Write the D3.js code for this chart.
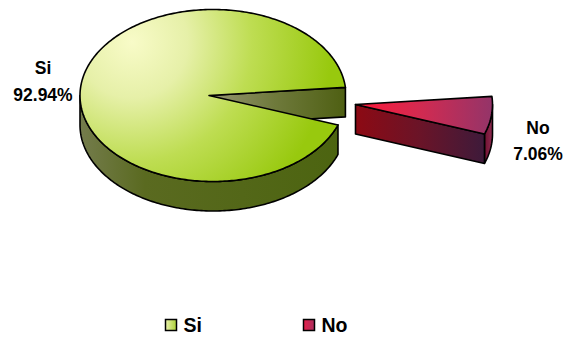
<!DOCTYPE html>
<html>
<head>
<meta charset="utf-8">
<script src="https://cdn.jsdelivr.net/npm/d3@7"></script>
<style>
  html, body { margin: 0; padding: 0; background: #fff; }
  text { font-family: "Liberation Sans", Arial, sans-serif; font-weight: bold; fill: #000; }
</style>
</head>
<body>
<div id="chart"></div>
<script>
const categories = ["Si", "No"];
const shares = [92.94, 7.06];
const shareLabels = ["92.94%", "7.06%"];

const width = 565, height = 337;
const cx = 213, cy = 95.5, rx = 133, ry = 86, depth = 29.5;
const hubX = 209;
const explode = [[0, 0], [146.5, 9]];
const rad = Math.PI / 180;

const svg = d3.select("#chart").append("svg")
    .attr("width", width)
    .attr("height", height)
    .style("display", "block");

const defs = svg.append("defs");

function linearGrad(id, x1, x2, stops) {
    const g = defs.append("linearGradient")
        .attr("id", id)
        .attr("gradientUnits", "userSpaceOnUse")
        .attr("x1", x1).attr("y1", 0)
        .attr("x2", x2).attr("y2", 0);
    stops.forEach(s => g.append("stop").attr("offset", s[0]).attr("stop-color", s[1]));
}

const siTop = defs.append("radialGradient")
    .attr("id", "siTop")
    .attr("gradientUnits", "userSpaceOnUse")
    .attr("cx", 132).attr("cy", 42).attr("r", 200);
[[0, "#f8fbc8"], [0.28, "#e6f0a8"], [0.6, "#bedd52"], [1, "#98c90e"]]
    .forEach(s => siTop.append("stop").attr("offset", s[0]).attr("stop-color", s[1]));

linearGrad("siSide", 80, 340, [[0, "#747c4c"], [0.25, "#5a6a20"], [1, "#4c6410"]]);
linearGrad("siCut", 215, 346, [[0, "#93936e"], [0.45, "#6f7a3c"], [1, "#4e5f12"]]);
linearGrad("noTop", 370, 490, [[0, "#f41c3e"], [0.4, "#d42a50"], [1, "#963468"]]);
linearGrad("noCut", 357, 484, [[0, "#8c0a14"], [0.5, "#6a1428"], [1, "#3e1a3a"]]);
linearGrad("noRim", 484, 492, [[0, "#6e0f2e"], [1, "#8e2a50"]]);
linearGrad("siKey", 165, 177, [[0, "#eef3b4"], [1, "#a8d030"]]);
linearGrad("noKey", 303, 315, [[0, "#e8204a"], [1, "#a83060"]]);

const pie = d3.pie()
    .sort(null)
    .startAngle(110 * rad)
    .endAngle(470 * rad);

const arcs = pie(shares);

// d3 pie angles run clockwise from north, squash them on to the tilted disc
const rimPoint = (a, dx, dy, drop) => [
    cx + dx + rx * Math.sin(a),
    cy + dy - ry * Math.cos(a) + drop
];

const line = d3.line();

function rim(a0, a1, dx, dy, drop) {
    const n = Math.max(2, Math.ceil(Math.abs(a1 - a0) / (1 * rad)));
    return d3.range(n + 1).map(i => rimPoint(a0 + (a1 - a0) * i / n, dx, dy, drop));
}

const draw = (d, fill) => svg.append("path")
    .attr("d", d)
    .attr("fill", fill)
    .attr("stroke", "#000")
    .attr("stroke-width", 1.6)
    .attr("stroke-linejoin", "round");

// Si: outer wall along the front half, cut wall, then the top
{
    const a = arcs[0], [dx, dy] = explode[0];
    draw(line(rim(a.startAngle, Math.PI * 1.5, dx, dy, 0)
        .concat(rim(Math.PI * 1.5, a.startAngle, dx, dy, depth))) + "Z", "url(#siSide)");
    const e = rimPoint(a.endAngle, dx, dy, 0);
    draw(line([[hubX + dx, cy + dy], e, [e[0], e[1] + depth], [hubX + dx, cy + dy + depth]]) + "Z", "url(#siCut)");
    draw(line([[hubX + dx, cy + dy]].concat(rim(a.startAngle, a.endAngle, dx, dy, 0))) + "Z", "url(#siTop)");
}

// No: pulled out of the disc, front cut wall and the sliver of rim
{
    const a = arcs[1], [dx, dy] = explode[1];
    const s = rimPoint(a.endAngle, dx, dy, 0);
    const ax = hubX + dx, ay = cy + dy;
    draw(line(rim(a.endAngle, Math.PI * 2.5, dx, dy, 0)
        .concat(rim(Math.PI * 2.5, a.endAngle, dx, dy, depth))) + "Z", "url(#noRim)");
    draw(line([[ax, ay], s, [s[0], s[1] + depth], [ax, ay + depth]]) + "Z", "url(#noCut)");
    draw(line([[ax, ay]].concat(rim(a.startAngle, a.endAngle, dx, dy, 0))) + "Z", "url(#noTop)");
}

// data labels
const labelPos = [[43, 74, 101], [538, 134, 160]];
categories.forEach((c, i) => {
    const [x, y1, y2] = labelPos[i];
    svg.append("text").attr("x", x).attr("y", y1).attr("text-anchor", "middle")
        .attr("font-size", 17.5).text(c);
    svg.append("text").attr("x", x).attr("y", y2).attr("text-anchor", "middle")
        .attr("font-size", 17.5).text(shareLabels[i]);
});

// legend
const keyX = d3.scalePoint().domain(categories).range([165.5, 303.5]);
const keyFill = d3.scaleOrdinal().domain(categories).range(["url(#siKey)", "url(#noKey)"]);

const key = svg.selectAll("g.key")
    .data(categories)
    .enter()
    .append("g")
    .attr("class", "key");

key.append("rect")
    .attr("x", d => keyX(d))
    .attr("y", 319.5)
    .attr("width", 11)
    .attr("height", 11)
    .attr("fill", d => keyFill(d))
    .attr("stroke", "#000")
    .attr("stroke-width", 1.5);

key.append("text")
    .attr("x", d => keyX(d) + 18)
    .attr("y", 332)
    .attr("font-size", 19.5)
    .text(d => d);
</script>
</body>
</html>
